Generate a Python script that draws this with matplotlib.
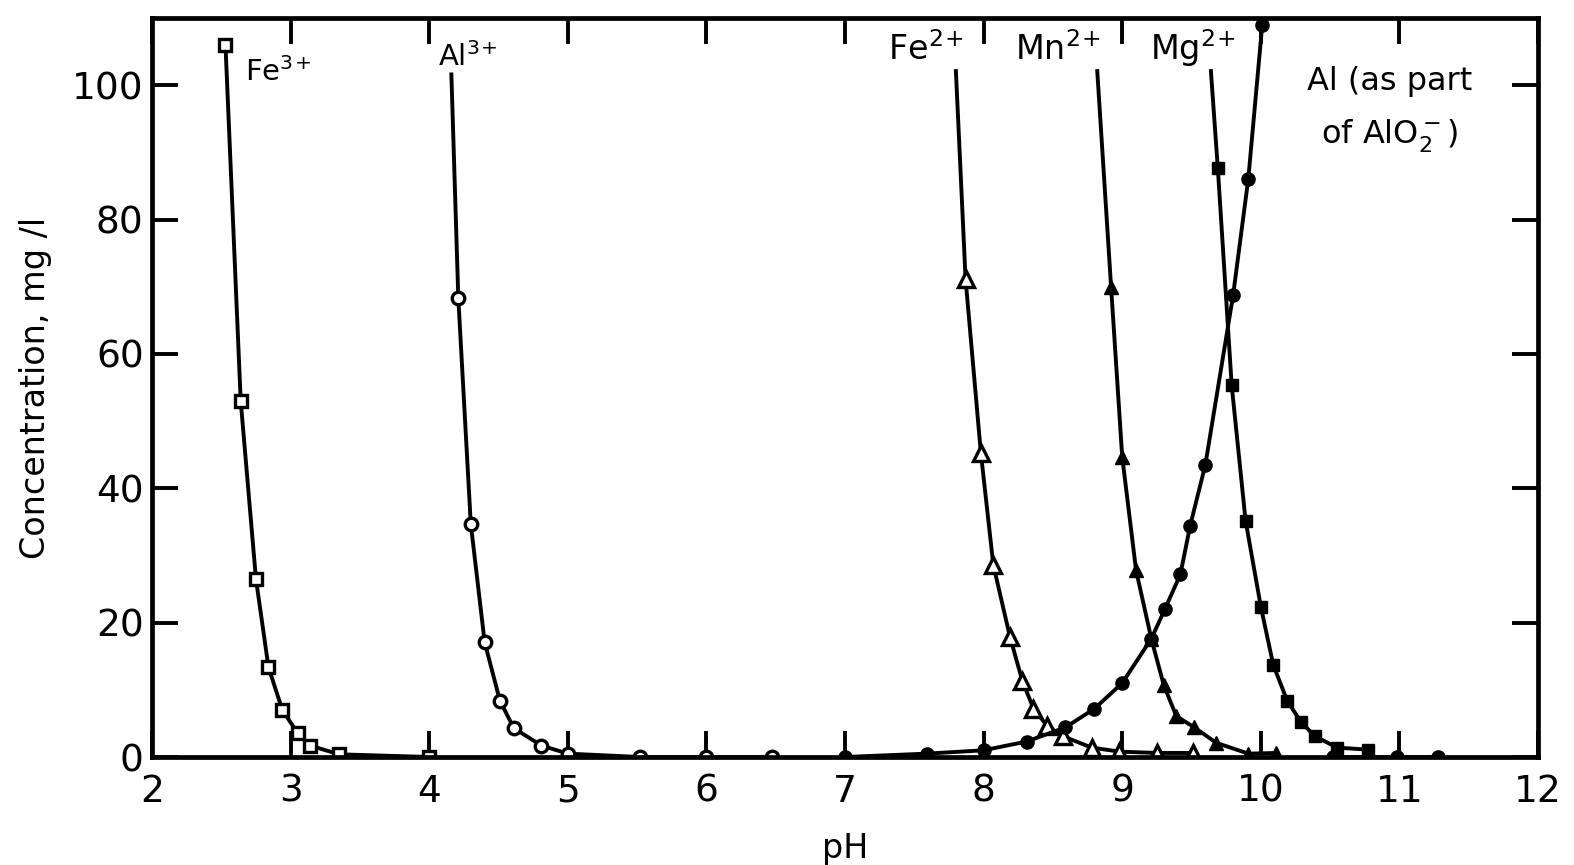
import matplotlib.pyplot as plt

plt.rcParams['font.family'] = ['DejaVu Sans']
plt.rcParams['mathtext.default'] = 'regular'

# values (pH, concentration mg/l)
fe3_ph = [2.53, 2.64, 2.75, 2.84, 2.94, 3.05, 3.14, 3.35, 4.0]
fe3_conc = [106, 53, 26.5, 13.4, 7.0, 3.6, 1.7, 0.4, 0.0]

al3_ph = [4.16, 4.21, 4.30, 4.40, 4.51, 4.61, 4.81, 5.0, 5.52, 6.0, 6.47]
al3_conc = [101.6, 68.3, 34.7, 17.1, 8.4, 4.3, 1.7, 0.5, 0.0, 0.0, 0.0]

fe2_ph = [7.80, 7.87, 7.98, 8.07, 8.19, 8.28, 8.36, 8.46, 8.57, 8.78, 8.98, 9.25, 9.51]
fe2_conc = [102.1, 71.1, 45.3, 28.6, 17.9, 11.3, 7.2, 4.6, 3.1, 1.4, 0.8, 0.6, 0.6]

mn2_ph = [8.82, 8.92, 9.00, 9.10, 9.21, 9.30, 9.39, 9.52, 9.68, 9.91, 10.11]
mn2_conc = [102.1, 69.9, 44.7, 27.8, 17.6, 10.7, 6.1, 4.4, 2.1, 0.5, 0.6]

mg2_ph = [9.64, 9.69, 9.79, 9.89, 10.00, 10.09, 10.19, 10.29, 10.39, 10.55, 10.77]
mg2_conc = [102.1, 87.6, 55.3, 35.2, 22.4, 13.7, 8.4, 5.2, 3.1, 1.4, 1.1]

alo2_ph = [7.0, 7.59, 8.0, 8.31, 8.59, 8.80, 9.0, 9.21, 9.31, 9.42, 9.49, 9.60, 9.80, 9.91, 10.01]
alo2_conc = [0.0, 0.5, 1.0, 2.3, 4.4, 7.2, 11.0, 17.6, 22.1, 27.2, 34.4, 43.5, 68.7, 86.1, 108.9]

tail_ph = [10.52, 10.98, 11.28]
tail_conc = [0.0, 0.0, 0.0]

x_ticks = [2, 3, 4, 5, 6, 7, 8, 9, 10, 11, 12]
y_ticks = [0, 20, 40, 60, 80, 100]

ink = "black"
lw = 2.8

fig = plt.figure(figsize=(15.74, 8.65), dpi=100, facecolor="white")
ax = fig.add_axes([152 / 1574, 1 - 757 / 865, 1386 / 1574, 739 / 865])

# Fe3+ open squares
ax.plot(fe3_ph, fe3_conc, color=ink, lw=lw, marker="s", ms=9,
        mfc="white", mec=ink, mew=2.4)
# Al3+ open circles (line starts above first marker)
ax.plot(al3_ph, al3_conc, color=ink, lw=lw, marker="o", ms=9,
        mfc="white", mec=ink, mew=2.4, markevery=list(range(1, len(al3_ph))))
# Fe2+ open triangles
ax.plot(fe2_ph, fe2_conc, color=ink, lw=lw, marker="^", ms=11,
        mfc="white", mec=ink, mew=2.4, markevery=list(range(1, len(fe2_ph))))
# Mn2+ filled triangles
ax.plot(mn2_ph, mn2_conc, color=ink, lw=lw, marker="^", ms=10,
        mfc=ink, mec=ink, markevery=list(range(1, len(mn2_ph))))
# Mg2+ filled squares
ax.plot(mg2_ph, mg2_conc, color=ink, lw=lw, marker="s", ms=9,
        mfc=ink, mec=ink, markevery=list(range(1, len(mg2_ph))))
# Al as part of AlO2- filled circles
ax.plot(alo2_ph, alo2_conc, color=ink, lw=lw, marker="o", ms=9.5,
        mfc=ink, mec=ink)
ax.plot(tail_ph, tail_conc, color=ink, lw=lw, marker="o", ms=9.5,
        mfc=ink, mec=ink)

ax.text(2.67, 100.6, "Fe$^{3}$$^{+}$", fontsize=21, ha="left", va="baseline")
ax.text(4.06, 102.9, "Al$^{3}$$^{+}$", fontsize=21, ha="left", va="baseline")
ax.text(7.31, 103.7, "Fe$^{2}$$^{+}$", fontsize=24, ha="left", va="baseline")
ax.text(8.23, 103.7, "Mn$^{2}$$^{+}$", fontsize=24, ha="left", va="baseline")
ax.text(9.20, 103.7, "Mg$^{2}$$^{+}$", fontsize=24, ha="left", va="baseline")
ax.text(10.93, 99.3, "Al (as part", fontsize=23, ha="center", va="baseline")
ax.text(10.93, 91.4, "of AlO$_2^-$)", fontsize=23, ha="center", va="baseline")

ax.set_xlim(2, 12)
ax.set_ylim(0, 110)
ax.set_xticks(x_ticks)
ax.set_yticks(y_ticks)
ax.set_xticklabels([str(t) for t in x_ticks])
ax.set_yticklabels([str(t) for t in y_ticks])

ax.tick_params(axis="both", direction="in", length=19, width=2.8,
               labelsize=27, top=True, right=True, color=ink)
ax.tick_params(axis="x", pad=12)
ax.tick_params(axis="y", pad=6)

for spine in ax.spines.values():
    spine.set_linewidth(3.4)
    spine.set_color(ink)

ax.set_xlabel("pH", fontsize=24)
ax.xaxis.set_label_coords(0.5, -0.102)
ax.set_ylabel("Concentration, mg /l", fontsize=24)
ax.yaxis.set_label_coords(-0.072, 0.5)

fig.savefig("out.png", dpi=100, facecolor="white")
